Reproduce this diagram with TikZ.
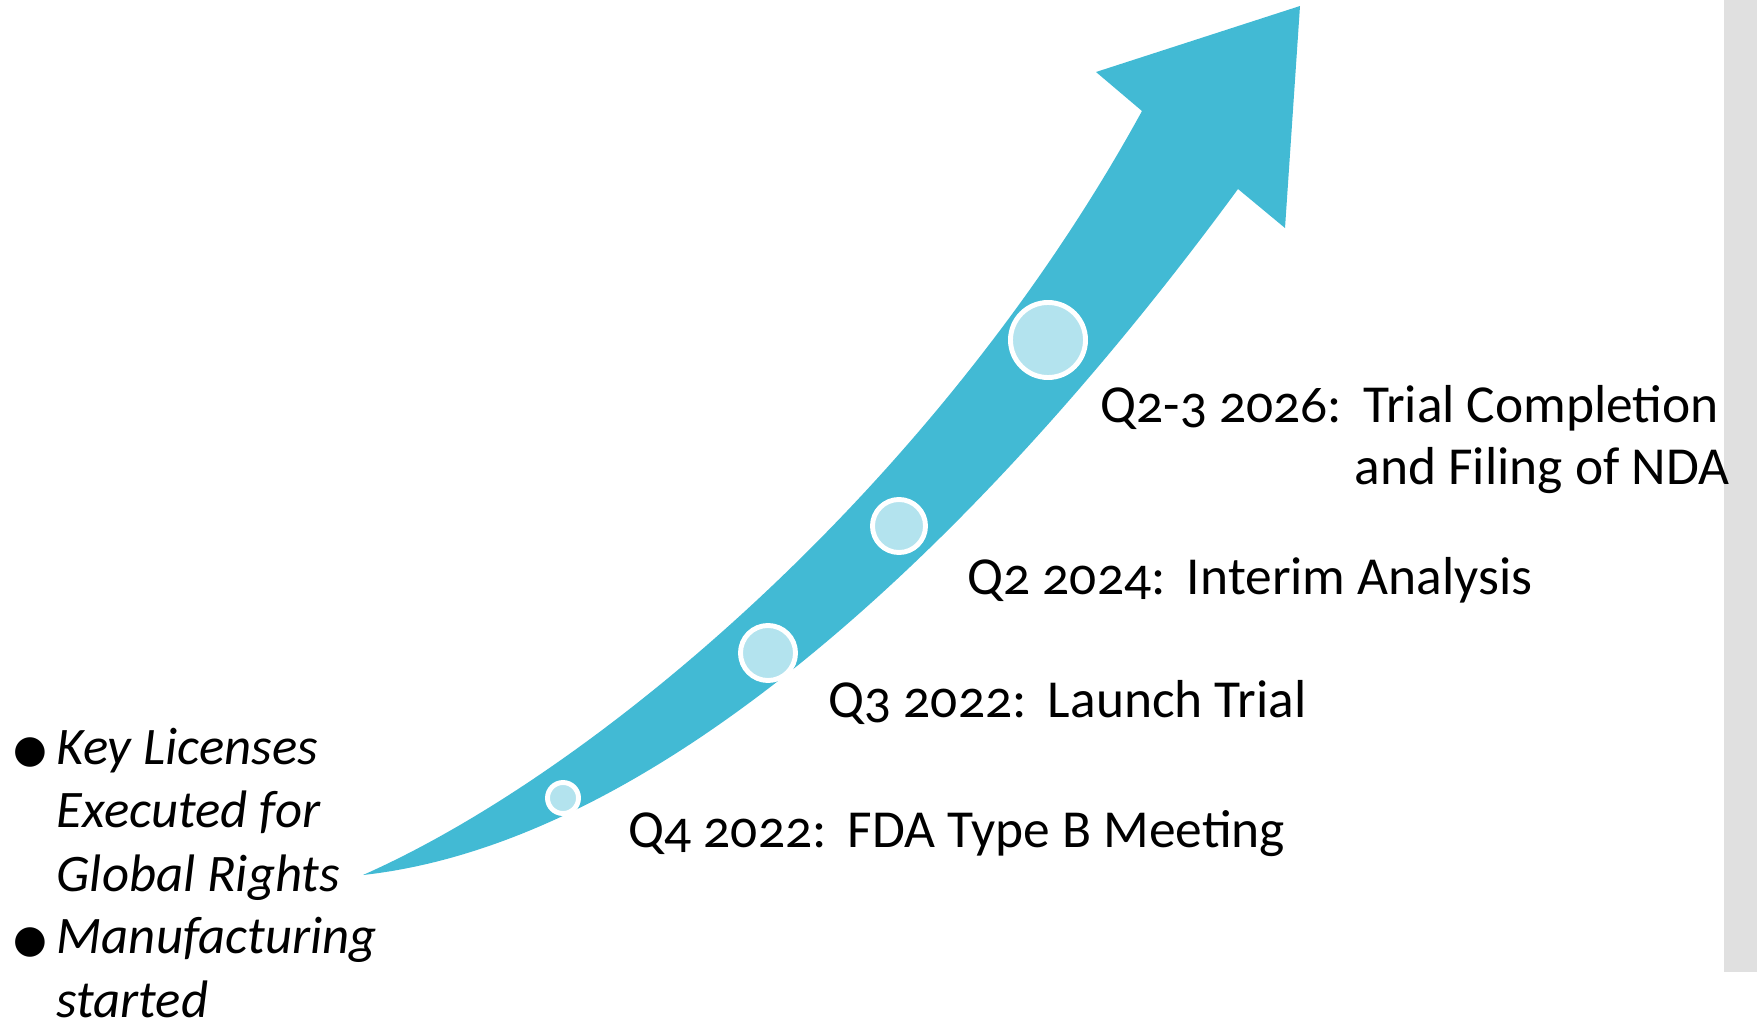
\documentclass[tikz,border=0pt]{standalone}
\usepackage{fontspec}
\setmainfont{Carlito}[Numbers=OldStyle]
\newfontfamily\symfont{DejaVu Sans}
\usepackage{tikz}
\definecolor{arrowblue}{RGB}{66,186,212}
\definecolor{dotblue}{RGB}{179,227,238}
\definecolor{sidegray}{RGB}{224,224,224}
\usetikzlibrary{positioning}

\begin{document}
\begin{tikzpicture}[x=0.01cm, y=-0.01cm,
    milestone/.style={circle, draw=white, line width=1.4pt, fill=dotblue,
                      minimum size=#1, inner sep=0pt},
    label/.style={anchor=base west, inner sep=0pt, font=\fontsize{15.2}{18}\selectfont},
    note/.style={anchor=base west, inner sep=0pt, align=left,
                 font=\fontsize{15}{18}\selectfont\itshape},
    dot/.style={inner sep=0pt, font=\fontsize{11}{11}\selectfont\symfont}
]
    \useasboundingbox (0,0) rectangle (1757,1027);
    \fill[sidegray] (1724,0) rectangle (1757,972);

    % the rising arrow
    \fill[arrowblue] (363,875) .. controls (600,770) and (940,480) .. (1142,111)
        -- (1096,72) -- (1300,6) -- (1285,228) -- (1238,189)
        .. controls (1010,500) and (680,840) .. cycle;

    % milestones on the arrow
    \node[milestone=0.31cm] (m1) at (563,798) {};
    \node[milestone=0.55cm] (m2) at (768,653) {};
    \node[milestone=0.53cm] (m3) at (899,526) {};
    \node[milestone=0.75cm] (m4) at (1048,340) {};

    \node[label] (q4) at (628,847) {Q4 2022:\hspace{0.4em}FDA Type B Meeting};
    \node[label] (q3) at (828,717) {Q3 2022:\hspace{0.4em}Launch Trial};
    \node[label] (q2) at (967,594) {Q2 2024:\hspace{0.4em}Interim Analysis};
    \node[label] (q23) at (1100,422) {Q2-3 2026:\hspace{0.4em}Trial Completion};
    \node[label, anchor=base east] (q23b) at (1730,484) {and Filing of NDA};

    % bullet list, bottom left (base = last line)
    \node[dot] (b1) at (30,752) {●};
    \node[note] (n1) at (56,891) {Key Licenses\\Executed for\\Global Rights};
    \node[dot] (b2) at (30,942) {●};
    \node[note] (n2) at (56,1017) {Manufacturing\\started};
\end{tikzpicture}
\end{document}
